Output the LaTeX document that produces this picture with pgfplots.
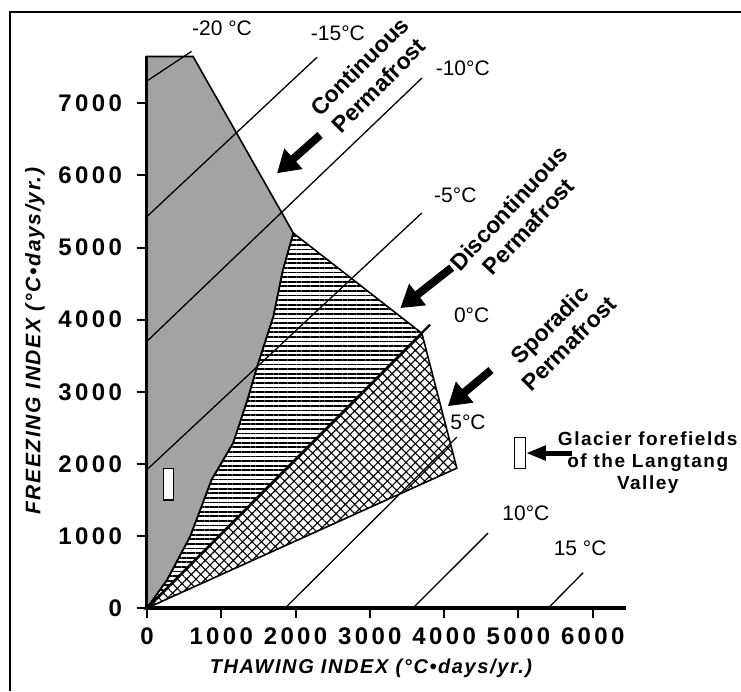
\documentclass[border=0pt]{standalone}
\usepackage{fontspec}
\setmainfont{Liberation Sans}
\newfontfamily\widefont[LetterSpace=8]{Liberation Sans}
\newfontfamily\tickfont[LetterSpace=14]{Liberation Sans}
\usepackage{pgfplots}
\pgfplotsset{compat=1.18}
\usetikzlibrary{patterns.meta,arrows.meta}

\begin{document}
\begin{tikzpicture}
\begin{axis}[
    scale only axis,
    width=239.6pt, height=275.8pt,
    xmin=0, xmax=6450, ymin=0, ymax=7650,
    axis x line=bottom, axis y line=left,
    axis line style={line width=2pt,-},
    xtick={0,1000,...,6000}, ytick={0,1000,...,7000},
    tick align=outside, major tick length=5pt,
    tick style={line width=1pt,black},
    /pgf/number format/assume math mode=true,
    /pgf/number format/1000 sep={},
    ticklabel style={font=\tickfont\bfseries\fontsize{12}{14}\selectfont},
    yticklabel style={xshift=-4pt},
    xticklabel style={yshift=-1.5pt},
    clip=false,
]

% continuous permafrost (grey)
\addplot[draw=black, line width=0.8pt, fill=black!36] coordinates {
    (0,0) (0,7650) (620,7650) (1970,5200) (1830,4690) (1700,4040) (1480,3340)
    (1350,2880) (1160,2290) (870,1780) (580,990) (270,390) (0,0)
} -- cycle;

% discontinuous permafrost (horizontal lines)
\addplot[draw=black, line width=0.8pt, pattern={Lines[angle=0,distance=2.3pt,line width=0.9pt]}] coordinates {
    (0,0) (270,390) (580,990) (870,1780) (1160,2290) (1350,2880) (1480,3340)
    (1700,4040) (1830,4690) (1970,5200) (3700,3810) (0,0)
} -- cycle;

% sporadic permafrost (cross hatch)
\addplot[draw=black, line width=0.8pt, pattern={Hatch[angle=45,distance=3.3pt,line width=0.55pt]}] coordinates {
    (0,0) (3700,3810) (4170,1940) (0,0)
} -- cycle;

% isotherms of mean annual air temperature
\addplot[black, line width=0.65pt] coordinates {(0,7310) (600,7720)};
\addplot[black, line width=0.65pt] coordinates {(0,5430) (2290,7640)};
\addplot[black, line width=0.65pt] coordinates {(0,3700) (3700,7350)};
\addplot[black, line width=0.65pt] coordinates {(0,1920) (3700,5480)};
\addplot[black, line width=1.2pt] coordinates {(0,0) (3810,3930)};
\addplot[black, line width=0.65pt] coordinates {(1860,0) (4170,2370)};
\addplot[black, line width=0.65pt] coordinates {(3580,0) (4590,1040)};
\addplot[black, line width=0.65pt] coordinates {(5400,0) (5870,490)};

% sample boxes
\addplot[draw=black, line width=0.6pt, fill=white] coordinates {(220,1500) (360,1500) (360,1940) (220,1940)} -- cycle;
\addplot[draw=black, line width=0.6pt, fill=white] coordinates {(4950,1940) (5090,1940) (5090,2370) (4950,2370)} -- cycle;

% arrows
\addplot[line width=4pt, -{Triangle[length=11pt,width=13pt]}] coordinates {(2330,6560) (1750,6030)};
\addplot[line width=4pt, -{Triangle[length=11pt,width=13pt]}] coordinates {(4100,4720) (3410,4160)};
\addplot[line width=4pt, -{Triangle[length=11pt,width=13pt]}] coordinates {(4630,3300) (4050,2800)};
\addplot[line width=2.5pt, -{Triangle[length=10pt,width=7pt]}] coordinates {(5720,2150) (5100,2150)};

% labels
\node[font=\fontsize{10.5}{12}\selectfont] at (axis cs:1010,8040) {-20 °C};
\node[font=\fontsize{10.5}{12}\selectfont] at (axis cs:2570,7970) {-15°C};
\node[font=\fontsize{10.5}{12}\selectfont] at (axis cs:4250,7490) {-10°C};
\node[font=\fontsize{10.5}{12}\selectfont] at (axis cs:4150,5730) {-5°C};
\node[font=\fontsize{10.5}{12}\selectfont] at (axis cs:4370,4060) {0°C};
\node[font=\fontsize{10.5}{12}\selectfont] at (axis cs:4320,2580) {5°C};
\node[font=\fontsize{10.5}{12}\selectfont] at (axis cs:5100,1320) {10°C};
\node[font=\fontsize{10.5}{12}\selectfont] at (axis cs:5830,830) {15 °C};

\node[rotate=45, align=center, font=\bfseries\fontsize{11.5}{13.5}\selectfont] at (axis cs:2990,7380) {Continuous\\Permafrost};
\node[rotate=47, align=center, font=\bfseries\fontsize{11.5}{13.5}\selectfont] at (axis cs:5000,5420) {Discontinuous\\Permafrost};
\node[rotate=45, align=center, font=\bfseries\fontsize{11.5}{13.5}\selectfont] at (axis cs:5550,3800) {Sporadic\\Permafrost};
\node[align=center, font=\widefont\bfseries\fontsize{9.5}{11}\selectfont] at (axis cs:6740,2020) {Glacier forefields\\of the Langtang\\Valley};

\node[rotate=90, font=\widefont\bfseries\itshape\fontsize{10.5}{13}\selectfont] at (axis cs:-1507,3700) {FREEZING INDEX (°C•days/yr.)};
\node[font=\widefont\bfseries\itshape\fontsize{10}{12}\selectfont] at (axis cs:3015,-832) {THAWING INDEX (°C•days/yr.)};

% frame of the figure
\draw[line width=1pt] (axis cs:-1844,-1151) -- (axis cs:-1844,8266) -- (axis cs:7995,8266);

\coordinate (bb1) at (axis cs:-1978,-1151);
\coordinate (bb2) at (axis cs:7995,8433);
\end{axis}
\pgfresetboundingbox
\path[use as bounding box] (bb1) rectangle (bb2);
\end{tikzpicture}
\end{document}
